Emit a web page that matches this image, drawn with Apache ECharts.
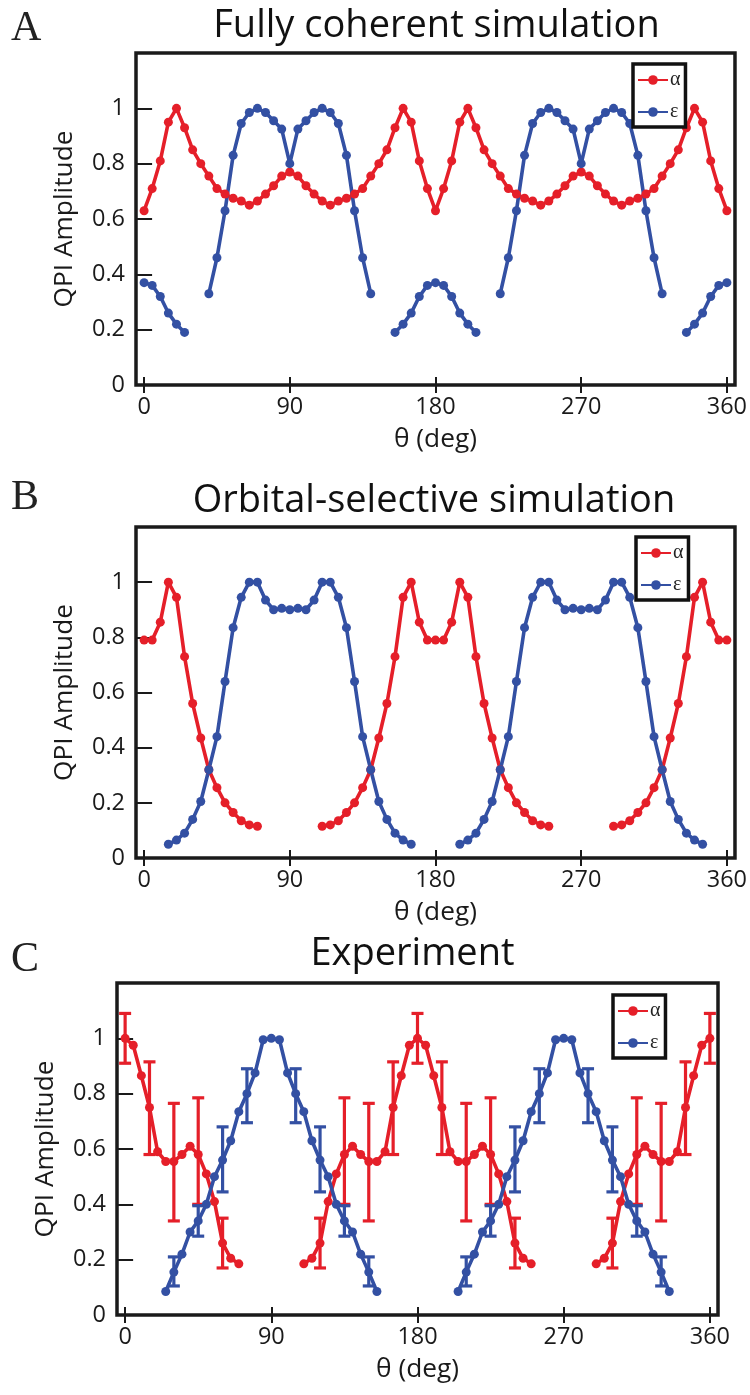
<!DOCTYPE html>
<html>
<head>
<meta charset="utf-8">
<script src="https://cdn.jsdelivr.net/npm/echarts@6/dist/echarts.min.js"></script>
<style>
html,body{margin:0;padding:0;background:#fff;}
#chart{width:750px;height:1395px;}
</style>
</head>
<body>
<div id="chart"></div>
<script>
// ---------- data ----------
const theta = [0,5,10,15,20,25,30,35,40,45,50,55,60,65,70,75,80,85,90,95,100,105,110,115,120,125,130,135,140,145,150,155,160,165,170,175,180,185,190,195,200,205,210,215,220,225,230,235,240,245,250,255,260,265,270,275,280,285,290,295,300,305,310,315,320,325,330,335,340,345,350,355,360];

const alphaA = [0.63,0.71,0.81,0.95,1.00,0.93,0.85,0.80,0.755,0.71,0.69,0.675,0.665,0.65,0.665,0.69,0.72,0.755,0.77,
  0.755,0.72,0.69,0.665,0.65,0.665,0.675,0.69,0.71,0.755,0.80,0.85,0.93,1.00,0.95,0.81,0.71,0.63,
  0.71,0.81,0.95,1.00,0.93,0.85,0.80,0.755,0.71,0.69,0.675,0.665,0.65,0.665,0.69,0.72,0.755,0.77,
  0.755,0.72,0.69,0.665,0.65,0.665,0.675,0.69,0.71,0.755,0.80,0.85,0.93,1.00,0.95,0.81,0.71,0.63];
const epsA = [0.37,0.36,0.32,0.26,0.22,0.19,null,null,
  0.33,0.46,0.63,0.83,0.945,0.985,1.0,0.985,0.955,0.925,0.80,0.925,0.955,0.985,1.0,0.985,0.945,0.83,0.63,0.46,0.33,
  null,null,0.19,0.22,0.26,0.32,0.36,0.37,0.36,0.32,0.26,0.22,0.19,null,null,
  0.33,0.46,0.63,0.83,0.945,0.985,1.0,0.985,0.955,0.925,0.80,0.925,0.955,0.985,1.0,0.985,0.945,0.83,0.63,0.46,0.33,
  null,null,0.19,0.22,0.26,0.32,0.36,0.37];

const alphaB = [0.79,0.79,0.855,1.0,0.945,0.73,0.56,0.435,0.32,0.255,0.20,0.165,0.135,0.12,0.115,
  null,null,null,null,null,null,null,
  0.115,0.12,0.135,0.165,0.20,0.255,0.32,0.435,0.56,0.73,0.945,1.0,0.855,0.79,0.79,
  0.79,0.855,1.0,0.945,0.73,0.56,0.435,0.32,0.255,0.20,0.165,0.135,0.12,0.115,
  null,null,null,null,null,null,null,
  0.115,0.12,0.135,0.165,0.20,0.255,0.32,0.435,0.56,0.73,0.945,1.0,0.855,0.79,0.79];
const epsB = [null,null,null,
  0.05,0.065,0.09,0.14,0.205,0.32,0.44,0.64,0.835,0.945,1.0,1.0,0.935,0.9,0.905,0.9,0.905,0.9,0.935,1.0,1.0,0.945,0.835,0.64,0.44,0.32,0.205,0.14,0.09,0.065,0.05,
  null,null,null,null,null,
  0.05,0.065,0.09,0.14,0.205,0.32,0.44,0.64,0.835,0.945,1.0,1.0,0.935,0.9,0.905,0.9,0.905,0.9,0.935,1.0,1.0,0.945,0.835,0.64,0.44,0.32,0.205,0.14,0.09,0.065,0.05,
  null,null,null];

const alphaC = [1.0,0.975,0.865,0.75,0.59,0.555,0.555,0.58,0.61,0.58,0.51,0.41,0.26,0.205,0.185,
  null,null,null,null,null,null,null,
  0.185,0.205,0.26,0.41,0.51,0.58,0.61,0.58,0.555,0.555,0.59,0.75,0.865,0.975,1.0,
  0.975,0.865,0.75,0.59,0.555,0.555,0.58,0.61,0.58,0.51,0.41,0.26,0.205,0.185,
  null,null,null,null,null,null,null,
  0.185,0.205,0.26,0.41,0.51,0.58,0.61,0.58,0.555,0.555,0.59,0.75,0.865,0.975,1.0];
const epsC = [null,null,null,null,null,
  0.085,0.155,0.22,0.30,0.34,0.40,0.50,0.56,0.63,0.735,0.80,0.875,0.995,1.0,0.995,0.875,0.80,0.735,0.63,0.56,0.50,0.40,0.34,0.30,0.22,0.155,0.085,
  null,null,null,null,null,null,null,null,null,
  0.085,0.155,0.22,0.30,0.34,0.40,0.50,0.56,0.63,0.735,0.80,0.875,0.995,1.0,0.995,0.875,0.80,0.735,0.63,0.56,0.50,0.40,0.34,0.30,0.22,0.155,0.085,
  null,null,null,null,null];

const errAlphaTheta = [0,15,30,45,60,120,135,150,165,180,195,210,225,240,300,315,330,345,360];
const errAlphaLow   = [0.91,0.58,0.34,0.40,0.17,0.17,0.40,0.34,0.58,0.91,0.58,0.34,0.40,0.17,0.17,0.40,0.34,0.58,0.91];
const errAlphaHigh  = [1.09,0.915,0.765,0.785,0.35,0.35,0.785,0.765,0.915,1.09,0.915,0.765,0.785,0.35,0.35,0.785,0.765,0.915,1.09];
const errEpsTheta = [30,45,60,75,105,120,135,150,210,225,240,255,285,300,315,330];
const errEpsLow   = [0.105,0.285,0.445,0.695,0.695,0.445,0.285,0.105,0.105,0.285,0.445,0.695,0.695,0.445,0.285,0.105];
const errEpsHigh  = [0.21,0.395,0.68,0.89,0.89,0.68,0.395,0.21,0.21,0.395,0.68,0.89,0.89,0.68,0.395,0.21];

const xTicks = [0,90,180,270,360];
const yTicks = [0,0.2,0.4,0.6,0.8,1];
const panelTitles = ['Fully coherent simulation','Orbital-selective simulation','Experiment'];
const panelLetters = ['A','B','C'];
const seriesNames = ['\u03b1','\u03b5'];
const xName = '\u03b8 (deg)';
const yName = 'QPI Amplitude';

// ---------- style ----------
const RED = '#e51f29', BLUE = '#3350a3', INK = '#1a1a1a';
const SANS = 'Open Sans';
const cv = document.createElement('canvas').getContext('2d');
function fit(text, family, target){ cv.font = '100px "' + family + '"'; return 100 * target / cv.measureText(text).width; }
const titleSize = fit(panelTitles[0], SANS, 447);
const nameSize = fit(yName, SANS, 177);
const tickSize = fit('0.8', SANS, 33);

const grids = [
  {left:136, top:53, width:601, height:332},
  {left:136, top:527, width:601, height:331},
  {left:117, top:983, width:601, height:332}
];
const titleY = [26, 501, 954];
const titleX = [436.5, 434, 412.5];
const letterY = [29, 498, 960];
const legendPos = [{left:633, top:64},{left:636, top:537},{left:613, top:995}];

function pairs(arr){ return theta.map((t,i)=> [t, arr[i] === null ? '-' : arr[i]]); }
function errData(th, lo, hi){ return th.map((t,i)=>[t, lo[i], hi[i]]); }

const tickStyle = {inside:true, length:8, lineStyle:{color:INK, width:2}};
const xAxes = [], yAxes = [], series = [];
grids.forEach((g, gi) => {
  xAxes.push({type:'value', gridIndex:gi, min:-5, max:365, position:'bottom',
    axisLine:{show:false}, splitLine:{show:false},
    axisTick:Object.assign({customValues:xTicks}, tickStyle),
    axisLabel:{customValues:xTicks, fontFamily:SANS, fontSize:tickSize, color:INK, margin:11},
    name:xName, nameLocation:'middle', nameGap:42,
    nameTextStyle:{fontFamily:SANS, fontSize:nameSize, color:INK}});
  xAxes.push({type:'value', gridIndex:gi, min:-5, max:365, position:'top',
    axisLine:{show:false}, splitLine:{show:false},
    axisTick:Object.assign({customValues:xTicks}, tickStyle),
    axisLabel:{show:false}});
  yAxes.push({type:'value', gridIndex:gi, min:0, max:1.2, position:'left',
    axisLine:{show:false}, splitLine:{show:false},
    axisTick:Object.assign({customValues:yTicks}, tickStyle),
    axisLabel:{customValues:yTicks, fontFamily:SANS, fontSize:tickSize, color:INK, margin:11},
    name:yName, nameLocation:'middle', nameGap:58,
    nameTextStyle:{fontFamily:SANS, fontSize:nameSize, color:INK}});
  yAxes.push({type:'value', gridIndex:gi, min:0, max:1.2, position:'right',
    axisLine:{show:false}, splitLine:{show:false},
    axisTick:Object.assign({customValues:yTicks}, tickStyle),
    axisLabel:{show:false}});
});

function errSeries(gi, data, color){
  return {type:'custom', name:'err', xAxisIndex:2*gi, yAxisIndex:2*gi, data:data, z:2,
    renderItem:function(params, api){
      const p1 = api.coord([api.value(0), api.value(1)]);
      const p2 = api.coord([api.value(0), api.value(2)]);
      const c = 6;
      const st = {stroke:color, lineWidth:3.2};
      return {type:'group', children:[
        {type:'line', shape:{x1:p1[0], y1:p1[1], x2:p2[0], y2:p2[1]}, style:st},
        {type:'line', shape:{x1:p1[0]-c, y1:p1[1], x2:p1[0]+c, y2:p1[1]}, style:st},
        {type:'line', shape:{x1:p2[0]-c, y1:p2[1], x2:p2[0]+c, y2:p2[1]}, style:st}
      ]};
    }};
}
function lineSeries(gi, name, arr, color){
  return {type:'line', name:name, xAxisIndex:2*gi, yAxisIndex:2*gi, data:pairs(arr),
    symbol:'circle', symbolSize:9, showSymbol:true, connectNulls:false, z:3,
    lineStyle:{color:color, width:3.6}, itemStyle:{color:color}};
}

series.push(lineSeries(0, seriesNames[0], alphaA, RED));
series.push(lineSeries(0, seriesNames[1], epsA, BLUE));
series.push(lineSeries(1, seriesNames[0], alphaB, RED));
series.push(lineSeries(1, seriesNames[1], epsB, BLUE));
series.push(errSeries(2, errData(errAlphaTheta, errAlphaLow, errAlphaHigh), RED));
series.push(errSeries(2, errData(errEpsTheta, errEpsLow, errEpsHigh), BLUE));
series.push(lineSeries(2, seriesNames[0], alphaC, RED));
series.push(lineSeries(2, seriesNames[1], epsC, BLUE));

const graphics = [];
panelTitles.forEach((t, i) => {
  graphics.push({type:'text', x:titleX[i], y:titleY[i], z:10,
    style:{text:t, font: titleSize.toFixed(1) + 'px "' + SANS + '"', fill:'#111', align:'center', verticalAlign:'middle'}});
  graphics.push({type:'text', x:11, y:letterY[i], z:10,
    style:{text:panelLetters[i], font:'42px "Liberation Serif"', fill:'#222', align:'left', verticalAlign:'middle'}});
});

const legends = legendPos.map(p => ({
  left:p.left, top:p.top, orient:'vertical', data:seriesNames,
  itemWidth:30, itemHeight:12, itemGap:12, padding:[6,5,5,4],
  borderColor:'#111', borderWidth:3.5, backgroundColor:'#fff',
  textStyle:{fontFamily:'Liberation Serif', fontSize:20, color:'#222', padding:[0,0,0,-3]}
}));

const chart = echarts.init(document.getElementById('chart'), null, {renderer:'canvas'});
chart.setOption({
  animation:false,
  backgroundColor:'#fff',
  grid: grids.map(g => Object.assign({show:true, borderColor:INK, borderWidth:3.5, backgroundColor:'transparent', containLabel:false}, g)),
  xAxis: xAxes,
  yAxis: yAxes,
  legend: legends,
  series: series,
  graphic: graphics
});
</script>
</body>
</html>
